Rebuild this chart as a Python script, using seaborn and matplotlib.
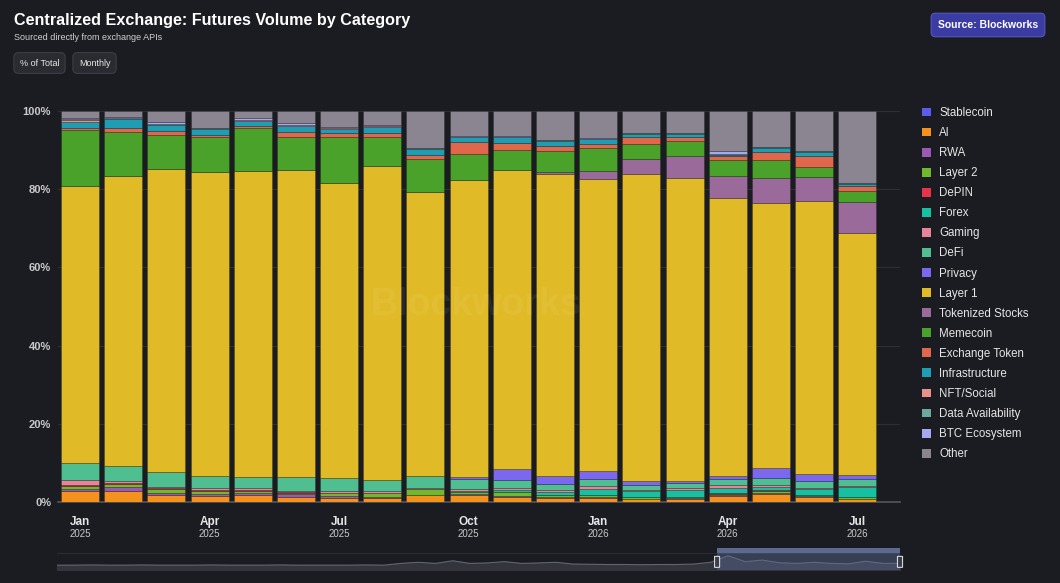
import numpy as np
import pandas as pd
import matplotlib
matplotlib.use('Agg')
import matplotlib.pyplot as plt
import matplotlib.transforms as mtransforms
from matplotlib.patches import Patch, Rectangle, FancyBboxPatch
import seaborn as sns

# 데이터 (월별 선물 거래량 비중, %)
months = ['2025-01', '2025-02', '2025-03', '2025-04', '2025-05', '2025-06', '2025-07',
          '2025-08', '2025-09', '2025-10', '2025-11', '2025-12', '2026-01', '2026-02',
          '2026-03', '2026-04', '2026-05', '2026-06', '2026-07']
tick_months = ['Jan', 'Apr', 'Jul', 'Oct', 'Jan', 'Apr', 'Jul']
tick_years = ['2025', '2025', '2025', '2025', '2026', '2026', '2026']
tick_index = [0, 3, 6, 9, 12, 15, 18]

categories = ['Stablecoin', 'AI', 'RWA', 'Layer 2', 'DePIN', 'Forex', 'Gaming', 'DeFi',
              'Privacy', 'Layer 1', 'Tokenized Stocks', 'Memecoin', 'Exchange Token',
              'Infrastructure', 'NFT/Social', 'Data Availability', 'BTC Ecosystem', 'Other']

stablecoin = [0.1, 0.1, 0.1, 0.1, 0.1, 0.1, 0.1, 0.1, 0.1, 0.1, 0.1, 0.1, 0.1, 0.1, 0.1, 0.1, 0.1, 0.1, 0.1]
ai = [2.8, 2.8, 1.7, 1.5, 1.7, 1.2, 0.9, 0.8, 1.6, 1.7, 1.3, 0.9, 0.9, 0.6, 0.8, 1.4, 1.9, 1.2, 0.7]
rwa = [0.4, 1.0, 0.6, 0.4, 0.5, 0.7, 0.6, 0.3, 0.2, 0.2, 0.2, 0.2, 0.2, 0.1, 0.1, 0.2, 0.3, 0.2, 0.1]
layer2 = [0.9, 0.8, 1.0, 0.9, 0.6, 0.4, 0.6, 1.0, 1.4, 0.5, 0.9, 0.6, 0.6, 0.5, 0.3, 0.4, 0.6, 0.3, 0.3]
depin = [0.2, 0.1, 0.1, 0.1, 0.1, 0.1, 0.1, 0.1, 0.1, 0.1, 0.1, 0.1, 0.1, 0.1, 0.1, 0.1, 0.2, 0.1, 0.1]
forex = [0.0, 0.0, 0.0, 0.0, 0.0, 0.0, 0.0, 0.0, 0.0, 0.3, 0.5, 0.7, 1.4, 1.4, 1.7, 1.3, 0.9, 1.5, 2.6]
gaming = [1.2, 0.6, 0.4, 0.6, 0.5, 0.4, 0.5, 0.5, 0.2, 0.4, 0.4, 0.4, 0.7, 0.4, 0.4, 0.8, 0.4, 0.3, 0.2]
defi = [4.3, 3.8, 3.9, 3.1, 2.8, 3.4, 3.3, 2.9, 3.2, 2.5, 2.2, 1.6, 1.8, 1.3, 1.3, 1.6, 1.7, 1.7, 1.8]
privacy = [0.0, 0.0, 0.0, 0.0, 0.0, 0.0, 0.0, 0.0, 0.0, 0.6, 2.9, 2.0, 2.1, 0.9, 0.7, 0.8, 2.6, 1.9, 1.0]
layer1 = [70.9, 74.6, 77.8, 78.2, 78.6, 79.1, 75.8, 80.7, 73.0, 76.4, 76.8, 78.0, 75.3, 78.9, 77.8, 71.6, 68.6, 70.1, 62.2]
tokenized = [0.0, 0.0, 0.0, 0.0, 0.0, 0.0, 0.0, 0.0, 0.0, 0.0, 0.0, 0.4, 2.1, 4.0, 5.6, 5.7, 6.6, 6.4, 8.2]
memecoin = [14.2, 11.2, 8.8, 9.0, 11.2, 8.5, 12.0, 7.3, 8.3, 6.7, 5.3, 5.4, 5.8, 3.9, 3.9, 4.1, 4.5, 2.6, 2.6]
exchange = [0.6, 1.0, 1.0, 0.5, 0.4, 1.1, 1.0, 1.0, 1.2, 3.0, 1.7, 1.3, 1.2, 1.6, 1.2, 0.9, 2.1, 2.8, 1.3]
infra = [1.6, 2.3, 1.5, 1.5, 1.4, 1.7, 1.1, 1.7, 1.4, 1.3, 1.5, 1.3, 1.1, 0.9, 0.7, 0.3, 1.1, 0.9, 0.6]
nft = [0.3, 0.1, 0.1, 0.1, 0.1, 0.1, 0.1, 0.1, 0.1, 0.1, 0.1, 0.1, 0.1, 0.1, 0.1, 0.1, 0.1, 0.1, 0.1]
data_avail = [0.3, 0.1, 0.2, 0.1, 0.1, 0.2, 0.1, 0.1, 0.1, 0.1, 0.1, 0.1, 0.1, 0.1, 0.1, 0.2, 0.1, 0.1, 0.1]
btc_eco = [0.3, 0.3, 0.4, 0.1, 0.4, 0.4, 0.1, 0.3, 0.1, 0.1, 0.1, 0.1, 0.1, 0.1, 0.1, 0.8, 0.1, 0.1, 0.1]
other = [1.8, 1.6, 2.9, 4.3, 1.9, 3.1, 4.2, 3.5, 9.5, 6.5, 6.5, 7.4, 7.0, 5.6, 5.6, 10.3, 9.3, 10.3, 18.5]

colors = ['#5b5bf0', '#f5921e', '#9b59b6', '#72b82c', '#e8334a', '#16c0a0', '#e8839a', '#4fbf92',
          '#7b68ee', '#e0bb27', '#9a6a9a', '#4aa22b', '#e0664c', '#1f9db2', '#e8918a', '#6aa8a0',
          '#a8a8f0', '#8a8590']

# 하단 네비게이터 (전체 거래량 미니맵)
nav_values = [0.22, 0.22, 0.23, 0.22, 0.22, 0.23, 0.22, 0.22, 0.22, 0.23, 0.22, 0.22, 0.22, 0.23,
              0.22, 0.22, 0.22, 0.22, 0.23, 0.22, 0.30, 0.35, 0.30, 0.42, 0.30, 0.32, 0.38, 0.30,
              0.32, 0.35, 0.27, 0.26, 0.25, 0.25, 0.24, 0.25, 0.25, 0.27, 0.35, 0.65, 0.38, 0.45,
              0.33, 0.30, 0.35, 0.30, 0.28, 0.40, 0.30, 0.30]

series = [stablecoin, ai, rwa, layer2, depin, forex, gaming, defi, privacy, layer1, tokenized,
          memecoin, exchange, infra, nft, data_avail, btc_eco, other]
df = pd.DataFrame(dict(zip(categories, series)), index=months)
df = df.div(df.sum(axis=1), axis=0) * 100  # % of Total

bg = '#1b1c21'
text_col = '#e6e6e6'
plt.rcParams['font.family'] = ['Liberation Sans', 'DejaVu Sans']

fig = plt.figure(figsize=(10.6, 5.83), dpi=100, facecolor=bg)
ax = fig.add_axes([58 / 1060, 81 / 583, 842 / 1060, 391 / 583])
ax.set_facecolor(bg)

# 누적 막대
bottom = np.zeros(len(months))
for cat, col in zip(categories, colors):
    vals = df[cat].values
    sns.barplot(x=months, y=vals, bottom=bottom, color=col, saturation=1, width=0.88,
                linewidth=0.4, edgecolor='#00000055', ax=ax, zorder=3)
    bottom = bottom + vals

ax.set_xlim(-0.51, 18.99)
ax.set_ylim(0, 100)
ax.set_yticks([0, 20, 40, 60, 80, 100])
ax.set_yticklabels(['0%', '20%', '40%', '60%', '80%', '100%'], color='#c9c9cc',
                   fontsize=8, fontweight='bold')
ax.tick_params(axis='y', length=0, pad=5)
ax.set_xticks([])
ax.set_xlabel('')
ax.set_ylabel('')
ax.grid(axis='y', color='#2e2f35', linewidth=0.8, zorder=0)
for s in ['top', 'right', 'left']:
    ax.spines[s].set_visible(False)
ax.spines['bottom'].set_color('#55565c')
ax.spines['bottom'].set_linewidth(1.2)

trans = mtransforms.blended_transform_factory(ax.transData, ax.transAxes)
for i, m, y in zip(tick_index, tick_months, tick_years):
    ax.text(i, -0.05, m, transform=trans, ha='center', va='center', color=text_col,
            fontsize=8.5, fontweight='bold')
    ax.text(i, -0.082, y, transform=trans, ha='center', va='center', color='#c9c9cc',
            fontsize=7)

# 워터마크
ax.text(0.496, 0.504, 'Blockworks', transform=ax.transAxes, ha='center', va='center',
        fontsize=27, fontweight='bold', color='white', alpha=0.06, zorder=5)

# 범례
handles = [Patch(facecolor=c, edgecolor='none', label=l) for l, c in zip(categories, colors)]
fig.legend(handles=handles, loc='upper left', bbox_to_anchor=(922 / 1060, 1 - 107 / 583),
           frameon=False, fontsize=8.3, labelcolor=text_col, handlelength=0.8,
           handleheight=0.8, handletextpad=0.7, labelspacing=0.70, borderaxespad=0,
           borderpad=0)

# 제목
fig.text(14 / 1060, 1 - 20 / 583, 'Centralized Exchange: Futures Volume by Category',
         fontsize=11.6, fontweight='bold', color='white', va='center', ha='left')
fig.text(14 / 1060, 1 - 37 / 583, 'Sourced directly from exchange APIs',
         fontsize=6.5, color='#d0d0d0', va='center', ha='left')

btn = dict(boxstyle='round,pad=0.65,rounding_size=0.5', fc='#2a2b31', ec='#3e3f46', lw=0.8)
fig.text(39.5 / 1060, 1 - 63 / 583, '% of Total', fontsize=6.5, color=text_col,
         ha='center', va='center', bbox=btn)
fig.text(94.5 / 1060, 1 - 63 / 583, 'Monthly', fontsize=6.5, color=text_col,
         ha='center', va='center', bbox=btn)

fig.text(988 / 1060, 1 - 25 / 583, 'Source: Blockworks', fontsize=7.5, fontweight='bold',
         color='white', ha='center', va='center',
         bbox=dict(boxstyle='round,pad=0.65,rounding_size=0.4', fc='#3a3ca4', ec='#5557c2',
                   lw=0.8))

# 네비게이터
nav = fig.add_axes([57 / 1060, 13 / 583, 843 / 1060, 22 / 583])
nav.set_facecolor(bg)
nav_x = np.arange(len(nav_values))
nav.fill_between(nav_x, nav_values, 0, color='#33353c', zorder=1)
sns.lineplot(x=nav_x, y=nav_values, color='#62656e', linewidth=0.8, ax=nav, zorder=2)
nav.set_xlim(0, len(nav_values) - 1)
nav.set_ylim(0, 1)
nav.axhline(0.77, color='#2c2d33', linewidth=0.8, zorder=0)
nav.axis('off')
nav.add_patch(Rectangle((0.783, 0.0), 0.217, 0.77, transform=nav.transAxes,
                        fc='#5a6a95', alpha=0.45, ec='none', zorder=3))
nav.add_patch(Rectangle((0.783, 0.77), 0.217, 0.23, transform=nav.transAxes,
                        fc='#5d6a90', ec='none', zorder=3, clip_on=False))
for hx in [0.783, 1.0]:
    nav.add_patch(FancyBboxPatch((hx - 0.003, 0.12), 0.006, 0.5, transform=nav.transAxes,
                                 boxstyle='round,pad=0,rounding_size=0.003', fc='#3a3f50',
                                 ec='#d8d8d8', lw=0.8, zorder=4, clip_on=False))

fig.savefig('out.png', dpi=100, facecolor=bg)
